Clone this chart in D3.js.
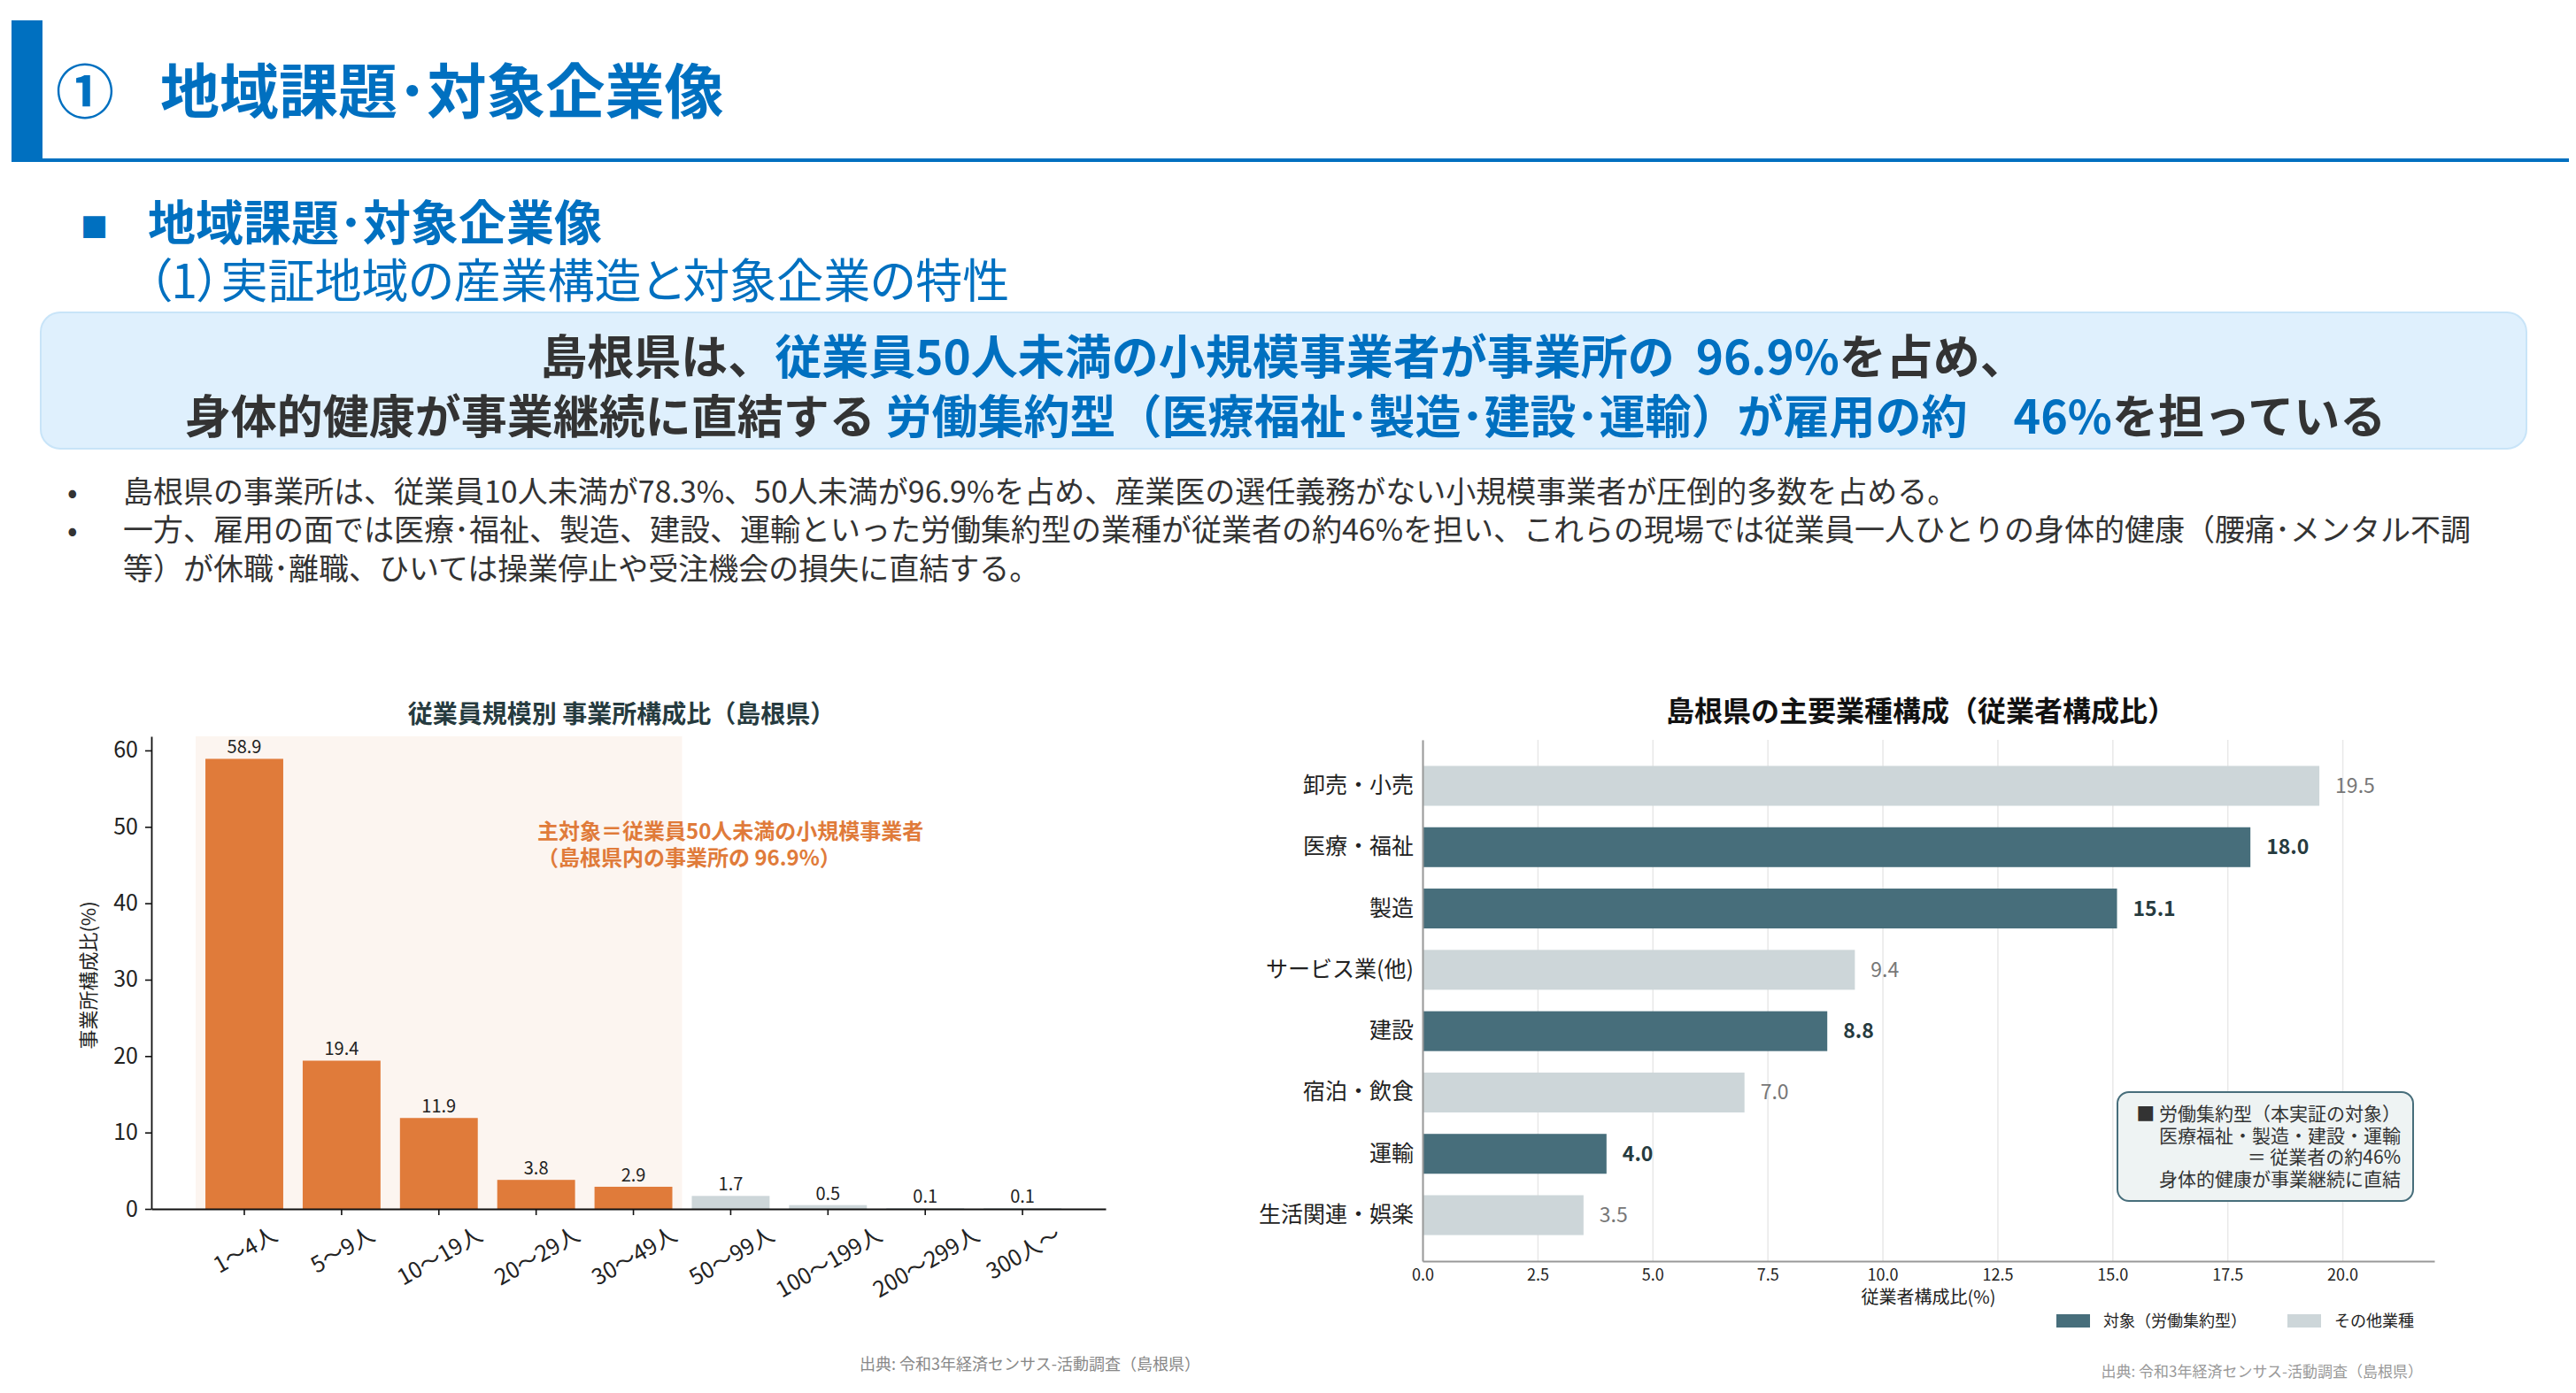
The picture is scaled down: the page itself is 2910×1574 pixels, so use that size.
<!DOCTYPE html>
<html lang="ja">
<head>
<meta charset="utf-8">
<script src="https://cdn.jsdelivr.net/npm/d3@7"></script>
<style>
  body { margin: 0; background: #fff; }
  svg { display: block; font-family: "Noto Sans CJK JP", "Noto Sans", sans-serif; }
  text { white-space: pre; }
  .palt { font-feature-settings: "palt"; }
</style>
</head>
<body>
<div id="slide"></div>
<script>
// ---- data: establishments by employee size (Shimane) ----
const sizeCategories = ["1〜4人", "5〜9人", "10〜19人", "20〜29人", "30〜49人", "50〜99人", "100〜199人", "200〜299人", "300人〜"];
const sizeShares = [58.9, 19.4, 11.9, 3.8, 2.9, 1.7, 0.5, 0.1, 0.1];
const sizeIsTarget = [true, true, true, true, true, false, false, false, false];
const sizeTicks = [0, 10, 20, 30, 40, 50, 60];

// ---- data: employment share by industry (Shimane) ----
const industries = ["卸売・小売", "医療・福祉", "製造", "サービス業(他)", "建設", "宿泊・飲食", "運輸", "生活関連・娯楽"];
const industryShares = [19.5, 18.0, 15.1, 9.4, 8.8, 7.0, 4.0, 3.5];
const industryIsTarget = [false, true, true, false, true, false, true, false];
const industryTicks = [0, 2.5, 5, 7.5, 10, 12.5, 15, 17.5, 20];

const W = 2910, H = 1574;
const BLUE = '#0070c0', INK = '#333333';
const ORANGE = '#e07b3a', GREY_BAR = '#cdd6d9';
const TEAL = '#476e7b', TEAL_DARK = '#263b3f';

const svg = d3.select('#slide').append('svg')
  .attr('width', W).attr('height', H)
  .attr('viewBox', `0 0 ${W} ${H}`);

// ---------- slide header ----------
svg.append('rect').attr('x', 13).attr('y', 23).attr('width', 35).attr('height', 160).attr('fill', BLUE);
svg.append('rect').attr('x', 48).attr('y', 179).attr('width', 2854).attr('height', 4).attr('fill', BLUE);

svg.append('text').attr('x', 63).attr('y', 128)
  .attr('font-size', 66).attr('font-weight', 700).attr('fill', BLUE).text('①');
svg.append('text').attr('x', 181).attr('y', 128)
  .attr('font-size', 67).attr('font-weight', 700).attr('fill', BLUE).text('地域課題･対象企業像');

svg.append('text').attr('x', 91).attr('y', 268)
  .attr('font-size', 31).attr('fill', BLUE).text('■');
svg.append('text').attr('x', 167).attr('y', 272)
  .attr('font-size', 54).attr('font-weight', 700).attr('fill', BLUE).text('地域課題･対象企業像');
svg.append('text').attr('class', 'palt').attr('x', 167).attr('y', 337)
  .attr('font-size', 53).attr('fill', BLUE).text('（1）実証地域の産業構造と対象企業の特性');

// key message box
svg.append('rect').attr('x', 46).attr('y', 353).attr('width', 2808).attr('height', 154)
  .attr('rx', 22).attr('fill', '#dff0fd').attr('stroke', '#c8e4f8').attr('stroke-width', 2);

function richLine(x, y, size, parts) {
  const t = svg.append('text').attr('x', x).attr('y', y)
    .attr('font-size', size).attr('font-weight', 700).attr('text-anchor', 'middle');
  parts.forEach(([s, c]) => t.append('tspan').attr('fill', c).text(s));
  return t;
}
richLine(1450, 423, 53, [
  ['島根県は、', INK],
  ['従業員50人未満の小規模事業者が事業所の  96.9%', BLUE],
  ['を占め、', INK]
]);
richLine(1452, 490, 52, [
  ['身体的健康が事業継続に直結する ', INK],
  ['労働集約型（医療福祉･製造･建設･運輸）が雇用の約　46%', BLUE],
  ['を担っている', INK]
]);

// bullet text
const bullets = [
  { dot: true, y: 568, s: '島根県の事業所は、従業員10人未満が78.3%、50人未満が96.9%を占め、産業医の選任義務がない小規模事業者が圧倒的多数を占める。' },
  { dot: true, y: 611, s: '一方、雇用の面では医療･福祉、製造、建設、運輸といった労働集約型の業種が従業者の約46%を担い、これらの現場では従業員一人ひとりの身体的健康（腰痛･メンタル不調' },
  { dot: false, y: 655, s: '等）が休職･離職、ひいては操業停止や受注機会の損失に直結する。' }
];
bullets.forEach(b => {
  if (b.dot) svg.append('text').attr('x', 76).attr('y', b.y).attr('font-size', 34).attr('fill', INK).text('•');
  svg.append('text').attr('x', 139).attr('y', b.y).attr('font-size', 34).attr('fill', INK).text(b.s);
});

// ---------- left chart: establishments by size ----------
const L = { left: 171, right: 1249, top: 832, bottom: 1366 };
const left = svg.append('g');

const xSize = d3.scaleBand().domain(sizeCategories)
  .range([L.left, L.right]).paddingInner(0.2).paddingOuter(0.505).align(0.55);
const ySize = d3.scaleLinear().domain([0, d3.max(sizeShares) * 1.05]).range([L.bottom, L.top]);

const lastTarget = sizeCategories[sizeIsTarget.lastIndexOf(true)];
const spanX0 = xSize(sizeCategories[0]) + xSize.bandwidth() / 2 - xSize.step() / 2;
const spanX1 = xSize(lastTarget) + xSize.bandwidth() / 2 + xSize.step() / 2;
left.append('rect').attr('x', spanX0).attr('y', L.top)
  .attr('width', spanX1 - spanX0).attr('height', L.bottom - L.top).attr('fill', '#fcf5f0');

const sizeRows = sizeCategories.map((c, i) => ({ c, v: sizeShares[i], target: sizeIsTarget[i] }));

left.selectAll('.bar').data(sizeRows).join('rect')
  .attr('class', 'bar')
  .attr('x', d => xSize(d.c))
  .attr('y', d => ySize(d.v))
  .attr('width', xSize.bandwidth())
  .attr('height', d => ySize(0) - ySize(d.v))
  .attr('fill', d => d.target ? ORANGE : GREY_BAR);

left.selectAll('.val').data(sizeRows).join('text')
  .attr('class', 'val')
  .attr('x', d => xSize(d.c) + xSize.bandwidth() / 2)
  .attr('y', d => ySize(d.v) - 6)
  .attr('text-anchor', 'middle').attr('font-size', 20).attr('fill', '#222')
  .text(d => d.v.toFixed(1));

const gyL = left.append('g').attr('transform', `translate(${L.left},0)`)
  .call(d3.axisLeft(ySize).tickValues(sizeTicks).tickSize(7).tickSizeOuter(0).tickPadding(8))
  .attr('font-family', null).attr('font-size', null);
gyL.select('.domain').attr('stroke', '#111').attr('stroke-width', 1.8);
gyL.selectAll('.tick line').attr('stroke', '#111').attr('stroke-width', 1.6);
gyL.selectAll('.tick text').attr('font-size', 25).attr('fill', '#222');

const gxL = left.append('g').attr('transform', `translate(0,${L.bottom})`)
  .call(d3.axisBottom(xSize).tickSize(7).tickSizeOuter(0))
  .attr('font-family', null).attr('font-size', null);
gxL.select('.domain').attr('stroke', '#111').attr('stroke-width', 1.8);
gxL.selectAll('.tick line').attr('stroke', '#111').attr('stroke-width', 1.6);
gxL.selectAll('.tick text')
  .attr('font-size', 25).attr('fill', '#222')
  .attr('y', 0).attr('dy', null)
  .attr('text-anchor', 'middle').attr('dominant-baseline', 'central')
  .attr('transform', function () {
    // rotated 30deg, bounding box centred on the tick, top fixed below tick
    const w = this.getComputedTextLength(), h = 25;
    const bh = w * 0.5 + h * 0.866;
    return `translate(0,${14 + bh / 2}) rotate(-30)`;
  });

left.append('text').attr('transform', `translate(98,1102) rotate(-90)`)
  .attr('text-anchor', 'middle').attr('dominant-baseline', 'central')
  .attr('font-size', 22).attr('fill', '#222').text('事業所構成比(%)');

left.append('text').attr('x', 702).attr('y', 817).attr('text-anchor', 'middle')
  .attr('font-size', 28).attr('font-weight', 700).attr('fill', TEAL_DARK)
  .text('従業員規模別 事業所構成比（島根県）');

const note = left.append('text').attr('font-size', 24).attr('font-weight', 700).attr('fill', ORANGE);
note.append('tspan').attr('x', 607).attr('y', 948).text('主対象＝従業員50人未満の小規模事業者');
note.append('tspan').attr('x', 607).attr('y', 978).text('（島根県内の事業所の 96.9%）');

left.append('text').attr('x', 1356).attr('y', 1548).attr('text-anchor', 'end')
  .attr('font-size', 18).attr('fill', '#888').text('出典: 令和3年経済センサス-活動調査（島根県）');

// ---------- right chart: employment by industry ----------
const R = { left: 1607, right: 2750, top: 836, bottom: 1425 };
const right = svg.append('g');

const xInd = d3.scaleLinear().domain([0, 22]).range([R.left, R.right]);
const yInd = d3.scaleBand().domain(industries).range([R.top, R.bottom])
  .paddingInner(0.35).paddingOuter(0.425);

const grid = right.append('g').attr('transform', `translate(0,${R.bottom})`)
  .call(d3.axisBottom(xInd).tickValues(industryTicks).tickSize(R.top - R.bottom).tickFormat(''));
grid.select('.domain').remove();
grid.selectAll('.tick line').attr('stroke', '#e8e8e8').attr('stroke-width', 1.5);

const indRows = industries.map((c, i) => ({ c, v: industryShares[i], target: industryIsTarget[i] }));

right.selectAll('.bar').data(indRows).join('rect')
  .attr('class', 'bar')
  .attr('x', xInd(0))
  .attr('y', d => yInd(d.c))
  .attr('width', d => xInd(d.v) - xInd(0))
  .attr('height', yInd.bandwidth())
  .attr('fill', d => d.target ? TEAL : GREY_BAR);

right.selectAll('.val').data(indRows).join('text')
  .attr('class', 'val')
  .attr('x', d => xInd(d.v) + 18)
  .attr('y', d => yInd(d.c) + yInd.bandwidth() / 2 + 8)
  .attr('font-size', 23)
  .attr('font-weight', d => d.target ? 700 : 400)
  .attr('fill', d => d.target ? TEAL_DARK : '#777')
  .text(d => d.v.toFixed(1));

const gxR = right.append('g').attr('transform', `translate(0,${R.bottom})`)
  .call(d3.axisBottom(xInd).tickValues(industryTicks).tickSize(0).tickPadding(9).tickFormat(d3.format('.1f')))
  .attr('font-family', null).attr('font-size', null);
gxR.select('.domain').attr('stroke', '#999').attr('stroke-width', 2);
gxR.selectAll('.tick text').attr('font-size', 18).attr('fill', '#222');

const gyR = right.append('g').attr('transform', `translate(${R.left},0)`)
  .call(d3.axisLeft(yInd).tickSize(0).tickPadding(10))
  .attr('font-family', null).attr('font-size', null);
gyR.select('.domain').attr('stroke', '#999').attr('stroke-width', 2);
gyR.selectAll('.tick text').attr('font-size', 25).attr('fill', '#222');

right.append('text').attr('x', 2170).attr('y', 815).attr('text-anchor', 'middle')
  .attr('font-size', 32).attr('font-weight', 700).attr('fill', '#111')
  .text('島根県の主要業種構成（従業者構成比）');

right.append('text').attr('x', (R.left + R.right) / 2).attr('y', 1473).attr('text-anchor', 'middle')
  .attr('font-size', 20).attr('fill', '#222').text('従業者構成比(%)');

// annotation box
right.append('rect').attr('x', 2392).attr('y', 1234).attr('width', 334).attr('height', 123)
  .attr('rx', 13).attr('fill', '#eef3f3').attr('stroke', TEAL).attr('stroke-width', 2);
const boxLines = ['■ 労働集約型（本実証の対象）', '医療福祉・製造・建設・運輸', '＝ 従業者の約46%', '身体的健康が事業継続に直結'];
right.append('g').selectAll('text').data(boxLines).join('text')
  .attr('x', 2712).attr('y', (d, i) => 1266 + i * 24.5)
  .attr('text-anchor', 'end').attr('font-size', 21).attr('fill', INK)
  .text(d => d);

// legend
const legendItems = [
  { label: '対象（労働集約型）', color: TEAL, x: 2323 },
  { label: 'その他業種', color: GREY_BAR, x: 2584 }
];
const lg = right.append('g').selectAll('g').data(legendItems).join('g')
  .attr('transform', d => `translate(${d.x},1485)`);
lg.append('rect').attr('width', 38).attr('height', 15).attr('fill', d => d.color);
lg.append('text').attr('x', 53).attr('y', 14).attr('font-size', 18).attr('fill', '#222').text(d => d.label);

right.append('text').attr('x', 2737).attr('y', 1556).attr('text-anchor', 'end')
  .attr('font-size', 17).attr('fill', '#999').text('出典: 令和3年経済センサス-活動調査（島根県）');
</script>
</body>
</html>
